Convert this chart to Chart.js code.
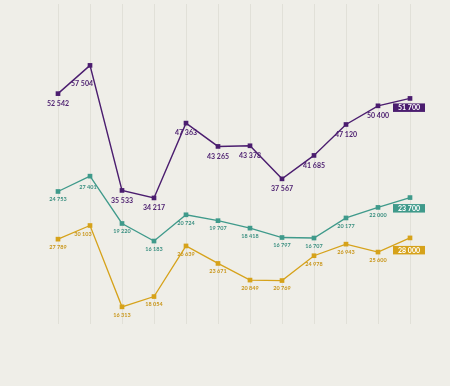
<!DOCTYPE html>
<html><head><meta charset="utf-8">
<script src="https://cdn.jsdelivr.net/npm/chart.js@4"></script>
<style>html,body{margin:0;padding:0;background:#efeee8;overflow:hidden}</style>
</head><body>
<canvas id="c" width="450" height="386"></canvas>
<script>
// ---- data ----
const categories = ['1','2','3','4','5','6','7','8','9','10','11','12'];
const purpleValues = [52542,57504,35533,34217,47363,43265,43378,37567,41685,47120,50400,51700];
const tealValues   = [24753,27401,19220,16183,20724,19707,18418,16797,16707,20177,22000,23700];
const goldValues   = [27789,30103,16313,18054,26639,23671,20849,20769,24978,26943,25600,28000];

const fmt = v => String(v).replace(/\B(?=(\d{3})+(?!\d))/g, ' ');

const PURPLE = '#4b1d6f', TEAL = '#3f9a8b', GOLD = '#d6a21a';

const labelPlugin = {
  id: 'labels',
  beforeDatasetsDraw(chart) {
    const ctx = chart.ctx, a = chart.chartArea, xs = chart.scales.x;
    ctx.save();
    ctx.strokeStyle = '#e1e0d8';
    ctx.lineWidth = 1;
    categories.forEach((c, i) => {
      const x = Math.round(xs.getPixelForValue(i)) + 0.5;
      ctx.beginPath(); ctx.moveTo(x, a.top); ctx.lineTo(x, a.bottom); ctx.stroke();
    });
    ctx.restore();
  },
  afterDatasetsDraw(chart) {
    const ctx = chart.ctx;
    ctx.save();
    chart.data.datasets.forEach((ds, di) => {
      const meta = chart.getDatasetMeta(di);
      const st = ds.labelStyle;
      meta.data.forEach((pt, i) => {
        const v = ds.data[i];
        const last = i === ds.data.length - 1;
        if (last) {
          const w = 32, h = 8.5, top = pt.y + st.boxGap;
          ctx.fillStyle = ds.borderColor;
          ctx.fillRect(pt.x - 17, top, w, h);
          ctx.fillStyle = '#ffffff';
          ctx.font = 'bold 7px Lato';
          ctx.textAlign = 'center'; ctx.textBaseline = 'middle';
          ctx.fillText(fmt(v), pt.x - 1, top + h / 2 + 0.3);
        } else {
          let dx = 0, dy = st.dy;
          if (i === 1) { dx = st.dx1; dy = st.dy1; }
          ctx.fillStyle = st.color;
          ctx.font = st.font;
          ctx.textAlign = 'center'; ctx.textBaseline = 'middle';
          ctx.fillText(fmt(v), pt.x + dx, pt.y + dy);
        }
      });
    });
    ctx.restore();
  }
};

const mk = (label, data, color, axis, labelStyle, bw) => ({
  label, data, yAxisID: axis,
  borderColor: color, backgroundColor: color,
  borderWidth: bw, tension: 0,
  pointStyle: 'rect', pointRadius: 3.3, pointBorderWidth: 0,
  pointBackgroundColor: color, clip: false,
  labelStyle
});

new Chart(document.getElementById('c'), {
  type: 'line',
  data: {
    labels: categories,
    datasets: [
      mk('purple', purpleValues, PURPLE, 'yP', {color: '#4b1d6f', font: 'bold 7px Lato', dy: 10, dx1: -8, dy1: 18, boxGap: 5}, 1.4),
      mk('teal', tealValues, TEAL, 'yT', {color: '#3a8f80', font: 'bold 5.5px Lato', dy: 8, dx1: -2, dy1: 11, boxGap: 6.5}, 1.3),
      mk('gold', goldValues, GOLD, 'yG', {color: '#c9961a', font: 'bold 5.5px Lato', dy: 8, dx1: -7, dy1: 9, boxGap: 8}, 1.3)
    ]
  },
  plugins: [labelPlugin],
  options: {
    responsive: false,
    animation: false,
    layout: {padding: {left: 58, right: 40, top: 0, bottom: 62}},
    plugins: {legend: {display: false}, tooltip: {enabled: false}},
    scales: {
      x: {type: 'category', display: false, offset: false},
      yP: {display: false, min: 12062, max: 68292},
      yT: {display: false, min: 1844, max: 57163},
      yG: {display: false, min: 13400, max: 67672}
    }
  }
});
</script>
</body></html>
